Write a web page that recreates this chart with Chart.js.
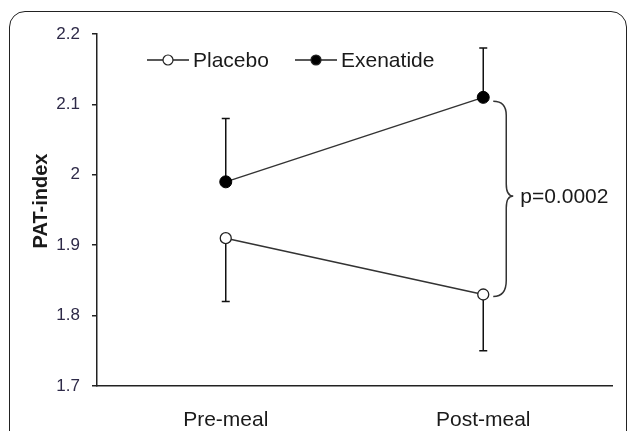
<!DOCTYPE html>
<html>
<head>
<meta charset="utf-8">
<script src="https://cdn.jsdelivr.net/npm/chart.js@4.4.0/dist/chart.umd.min.js"></script>
<style>
  html, body { margin:0; padding:0; background:#fff; overflow:hidden; }
  #wrap { position:relative; width:629px; height:431px; }
  #frame { position:absolute; left:9px; top:11px; width:618px; height:470px; border:1.5px solid #222;
           border-radius:16px; box-sizing:border-box; }
  canvas { position:absolute; left:0; top:0; }
</style>
</head>
<body>
<div id="wrap">
  <div id="frame"></div>
  <canvas id="chart" width="629" height="431"></canvas>
</div>
<script>
/* ===== Data ===== */
const categories = ['Pre-meal', 'Post-meal'];
const placebo = [1.91, 1.83];
const placeboLow = [1.82, 1.75];      // lower error bar end
const exenatide = [1.99, 2.11];
const exenatideHigh = [2.08, 2.18];   // upper error bar end
const yTicks = [1.7, 1.8, 1.9, 2.0, 2.1, 2.2];
const yTitle = 'PAT-index';
const pLabel = 'p=0.0002';

const FONT = "'Liberation Sans', Arial, sans-serif";
const INK = '#1a1a1a';
const TICK_INK = '#2e2a48';

/* ===== Error bars ===== */
const errorBars = {
  id: 'errorBars',
  beforeDatasetsDraw(chart) {
    const { ctx, scales: { x, y } } = chart;
    ctx.save();
    ctx.strokeStyle = '#111';
    ctx.lineWidth = 1.5;
    chart.data.datasets.forEach(ds => {
      ds.data.forEach((v, i) => {
        const px = x.getPixelForValue(i);
        const y0 = y.getPixelForValue(v);
        const y1 = y.getPixelForValue(ds.errEnd[i]);
        ctx.beginPath();
        ctx.moveTo(px, y0); ctx.lineTo(px, y1);
        ctx.moveTo(px - 4, y1); ctx.lineTo(px + 4, y1);
        ctx.stroke();
      });
    });
    ctx.restore();
  }
};

/* ===== Legend, y title, brace ===== */
const extras = {
  id: 'extras',
  afterDraw(chart) {
    const { ctx, scales: { x, y } } = chart;
    ctx.save();

    // y title
    ctx.save();
    ctx.translate(41, 201);
    ctx.rotate(-Math.PI / 2);
    ctx.font = `bold 20px ${FONT}`;
    ctx.fillStyle = INK;
    ctx.textAlign = 'center';
    ctx.textBaseline = 'middle';
    ctx.fillText(yTitle, 0, 0);
    ctx.restore();

    // legend
    const items = [[147, chart.data.datasets[0]], [295, chart.data.datasets[1]]];
    const ly = 60;
    items.forEach(([lx, ds]) => {
      ctx.strokeStyle = '#222';
      ctx.lineWidth = 1.5;
      ctx.beginPath(); ctx.moveTo(lx, ly); ctx.lineTo(lx + 42, ly); ctx.stroke();
      ctx.beginPath(); ctx.arc(lx + 21, ly, 5, 0, Math.PI * 2);
      ctx.fillStyle = ds.pointBackgroundColor; ctx.fill();
      ctx.lineWidth = 1.2; ctx.stroke();
      ctx.font = `21px ${FONT}`;
      ctx.fillStyle = INK;
      ctx.textAlign = 'left';
      ctx.textBaseline = 'middle';
      ctx.fillText(ds.label, lx + 46, ly + 1);
    });

    // brace between the post-meal means
    const bx = x.getPixelForValue(1);
    const yTop = y.getPixelForValue(exenatide[1]);
    const yBot = y.getPixelForValue(placebo[1]);
    const mid = (yTop + yBot) / 2;
    ctx.strokeStyle = '#333';
    ctx.lineWidth = 1.5;
    ctx.beginPath();
    ctx.moveTo(bx + 10, yTop + 4);
    ctx.quadraticCurveTo(bx + 23, yTop + 4, bx + 23, yTop + 18);
    ctx.lineTo(bx + 23, mid - 12);
    ctx.quadraticCurveTo(bx + 23, mid, bx + 30, mid);
    ctx.quadraticCurveTo(bx + 23, mid, bx + 23, mid + 12);
    ctx.lineTo(bx + 23, yBot - 14);
    ctx.quadraticCurveTo(bx + 23, yBot + 2, bx + 10, yBot + 2);
    ctx.stroke();
    ctx.font = `21px ${FONT}`;
    ctx.fillStyle = INK;
    ctx.textAlign = 'left';
    ctx.textBaseline = 'middle';
    ctx.fillText(pLabel, bx + 37, mid + 1);

    ctx.restore();
  }
};

new Chart(document.getElementById('chart'), {
  type: 'line',
  data: {
    labels: categories,
    datasets: [
      { label: 'Placebo', data: placebo, errEnd: placeboLow,
        borderColor: '#333', borderWidth: 1.5,
        pointRadius: 5.5, pointBackgroundColor: '#fff', pointBorderColor: '#222', pointBorderWidth: 1.3 },
      { label: 'Exenatide', data: exenatide, errEnd: exenatideHigh,
        borderColor: '#333', borderWidth: 1.5,
        pointRadius: 6, pointBackgroundColor: '#000', pointBorderColor: '#000', pointBorderWidth: 1 }
    ]
  },
  options: {
    responsive: false,
    animation: false,
    devicePixelRatio: 1,
    layout: { padding: { top: 34, right: 17, left: 0, bottom: 0 } },
    plugins: { legend: { display: false }, tooltip: { enabled: false } },
    scales: {
      x: {
        offset: true,
        grid: { display: false },
        border: { display: true, color: '#222', width: 1.5 },
        ticks: { padding: 14, color: INK, font: { family: FONT, size: 21 }, maxRotation: 0 },
        afterFit(s) { s.height = 45; }
      },
      y: {
        min: 1.7, max: 2.2,
        afterBuildTicks(s) { s.ticks = yTicks.map(v => ({ value: v })); },
        grid: { drawOnChartArea: false, drawTicks: true, tickLength: 5, color: '#222', lineWidth: 1.5 },
        border: { display: true, color: '#222', width: 1.5 },
        ticks: { padding: 12, color: TICK_INK, font: { family: FONT, size: 17 },
                 callback: v => String(+Number(v).toFixed(1)) },
        afterFit(s) { s.width = 97; }
      }
    }
  },
  plugins: [errorBars, extras]
});
</script>
</body>
</html>
